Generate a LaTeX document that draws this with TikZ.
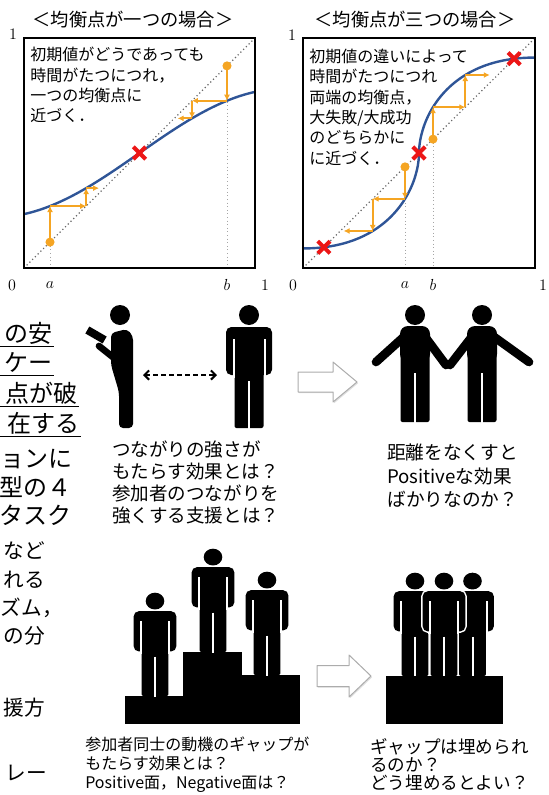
\documentclass[tikz,border=0pt]{standalone}
\usepackage{fontspec}
\usetikzlibrary{arrows.meta,shadows,calc}
\newfontfamily\jp{Noto Sans CJK JP}

\definecolor{curveblue}{RGB}{47,85,151}
\definecolor{weborange}{RGB}{245,165,35}
\definecolor{eqred}{RGB}{236,22,22}
\definecolor{guidegray}{RGB}{105,105,105}

\tikzset{
  panel/.style={draw=black, line width=1.5pt},
  diagonal/.style={guidegray, line width=0.9pt, dotted},
  dropline/.style={guidegray!60, line width=0.7pt, dotted},
  response/.style={curveblue, line width=1.8pt},
  cobweb/.style={weborange, line width=1.5pt, -{Latex[length=4.5pt,width=4.5pt]}},
  title/.style={font=\jp\fontsize{13.7pt}{16pt}\selectfont, inner sep=0pt},
  note/.style={font=\jp\fontsize{12pt}{15.2pt}\selectfont, align=left, anchor=north west, inner sep=0pt},
  axislabel/.style={font=\fontsize{12pt}{14pt}\selectfont, inner sep=0pt},
  margintext/.style={font=\jp\fontsize{18pt}{18pt}\selectfont, anchor=east, inner sep=0pt},
  marginsmall/.style={margintext, font=\jp\fontsize{15.5pt}{16pt}\selectfont},
  caption/.style={align=left, anchor=north west, inner sep=0pt},
  person fill/.style={fill=black},
  eqmark/.pic={\draw[eqred, line width=3pt] (-4.6pt,-4.6pt) -- (4.6pt,4.6pt) (-4.6pt,4.6pt) -- (4.6pt,-4.6pt);},
  startdot/.pic={\fill[weborange] (0,0) circle[radius=3.4pt];},
  standing/.pic={
    \path[person fill] (0,-113) circle[radius=10];
    \path[person fill, rounded corners=4pt] (-23,-53) -- (-23,-101) -- (23,-101) -- (23,-53) -- cycle;
    \path[person fill, rounded corners=1.5pt] (-14.5,-95) -- (-14.5,0) -- (14.5,0) -- (14.5,-95) -- cycle;
    \draw[white, line width=1.5pt] (-15.5,-89) -- (-15.5,-50) (15.5,-89) -- (15.5,-50) (0,-47) -- (0,1);
  },
  armsout/.pic={
    \path[person fill] (0,-107) circle[radius=10];
    \path[person fill, rounded corners=6pt] (-15,-60) -- (-15,-96) -- (15,-96) -- (15,-60) -- cycle;
    \path[person fill, rounded corners=1.5pt] (-14.5,-70) -- (-14.5,0) -- (14.5,0) -- (14.5,-70) -- cycle;
    \draw[white, line width=1.5pt] (0,-49) -- (0,1);
  },
  nextstep/.pic={
    \draw[gray!65, fill=white, line width=0.75pt, line join=round,
      drop shadow={opacity=0.25, shadow xshift=0.9pt, shadow yshift=-0.9pt}]
      (0,-10) -- (35,-10) -- (35,-20) -- (59,0) -- (35,20) -- (35,10) -- (0,10) -- cycle;
  },
  arm/.style={line width=6.5pt, line cap=round},
  reach/.style={line width=1.5pt, dash pattern=on 3.6pt off 2.4pt,
    {Straight Barb[length=3.5pt,width=7pt]}-{Straight Barb[length=3.5pt,width=7pt]}},
}

\begin{document}
\begin{tikzpicture}[x=0.75pt, y=-0.75pt]
\useasboundingbox (0,0) rectangle (549,795);

% ---- one equilibrium ----
\node[title] (ttlOne) at (133,20) {＜均衡点が一つの場合＞};
\begin{scope}[shift={(24,268)}, x=173.25pt, y=172.5pt]
  \coordinate (oa0) at (0.1126,0.1126);
  \coordinate (oa1) at (0.1126,0.2692);
  \coordinate (oa2) at (0.2692,0.2692);
  \coordinate (oa3) at (0.2692,0.3472);
  \coordinate (oa4) at (0.325,0.3472);
  \coordinate (ob0) at (0.8788,0.8788);
  \coordinate (ob1) at (0.8788,0.7272);
  \coordinate (ob2) at (0.7272,0.7272);
  \coordinate (ob3) at (0.7272,0.6506);
  \coordinate (ob4) at (0.665,0.6506);
  \draw[diagonal] (0,0) -- (1,1);
  \draw[dropline] (oa0) -- (oa0 |- 0,0);
  \draw[dropline] (ob0) -- (ob0 |- 0,0);
  \draw[response] plot[domain=0:1, samples=60] (\x,{0.5+0.28*sin(143.24*(\x-0.5))});
  \draw[cobweb] (oa0) -- (oa1);
  \draw[cobweb] (oa1) -- (oa2);
  \draw[cobweb] (oa2) -- (oa3);
  \draw[cobweb] (oa3) -- (oa4);
  \draw[cobweb] (ob0) -- (ob1);
  \draw[cobweb] (ob1) -- (ob2);
  \draw[cobweb] (ob2) -- (ob3);
  \draw[cobweb] (ob3) -- (ob4);
  \pic at (oa0) {startdot};
  \pic at (ob0) {startdot};
  \pic at (0.5,0.5) {eqmark};
  \draw[panel] (0,0) rectangle (1,1);
\end{scope}
\node[note] (noteOne) at (30,47) {初期値がどうであっても\\時間がたつにつれ，\\一つの均衡点に\\近づく．};
\node[axislabel] (topOne) at (13,34) {1};
\node[axislabel] (zeroOne) at (12,285) {0};
\node[axislabel] (aOne) at (50,285) {$a$};
\node[axislabel] (bOne) at (227,285) {$b$};
\node[axislabel] (endOne) at (265,285) {1};

% ---- three equilibria ----
\node[title] (ttlThree) at (415,20) {＜均衡点が三つの場合＞};
\begin{scope}[shift={(303,268)}, x=174pt, y=172.5pt]
  \coordinate (ta0) at (0.4397,0.4397);
  \coordinate (ta1) at (0.4397,0.3005);
  \coordinate (ta2) at (0.3005,0.3005);
  \coordinate (ta3) at (0.3005,0.1609);
  \coordinate (ta4) at (0.175,0.1609);
  \coordinate (tb0) at (0.5603,0.5603);
  \coordinate (tb1) at (0.5603,0.6995);
  \coordinate (tb2) at (0.6995,0.6995);
  \coordinate (tb3) at (0.6995,0.8391);
  \coordinate (tb4) at (0.805,0.8391);
  \draw[diagonal] (0,0) -- (1,1);
  \draw[dropline] (ta0) -- (ta0 |- 0,0);
  \draw[dropline] (tb0) -- (tb0 |- 0,0);
  \draw[response] plot[domain=-90:90, samples=121, variable=\t]
    ({0.5+0.5*(\t/90)*pow(abs(\t)/90+0.00001,0.8519)}, {0.5+0.415*sin(\t)});
  \draw[cobweb] (ta0) -- (ta1);
  \draw[cobweb] (ta1) -- (ta2);
  \draw[cobweb] (ta2) -- (ta3);
  \draw[cobweb] (ta3) -- (ta4);
  \draw[cobweb] (tb0) -- (tb1);
  \draw[cobweb] (tb1) -- (tb2);
  \draw[cobweb] (tb2) -- (tb3);
  \draw[cobweb] (tb3) -- (tb4);
  \pic at (ta0) {startdot};
  \pic at (tb0) {startdot};
  \pic at (0.09,0.09) {eqmark};
  \pic at (0.5,0.5) {eqmark};
  \pic at (0.91,0.91) {eqmark};
  \draw[panel] (0,0) rectangle (1,1);
\end{scope}
\node[note] (noteThree) at (309,49) {初期値の違いによって\\時間がたつにつれ\\両端の均衡点，\\大失敗/大成功\\のどちらかに\\に近づく．};
\node[axislabel] (topThree) at (292,35) {1};
\node[axislabel] (zeroThree) at (293,285) {0};
\node[axislabel] (aThree) at (405,285) {$a$};
\node[axislabel] (bThree) at (433,285) {$b$};
\node[axislabel] (endThree) at (543,285) {1};

% ---- body text of the page, cut at the left ----
\node[margintext] (m1) at (53,333) {の安};
\node[margintext] (m2) at (53,362) {ケー};
\node[margintext] (m3) at (78,393) {点が破};
\node[margintext] (m4) at (80,423) {在する};
\node[margintext] (m5) at (73,459) {ョンに};
\node[margintext] (m6) at (72,487) {型の４};
\node[margintext] (m7) at (72,515) {タスク};
\node[marginsmall] (m8) at (45,551) {など};
\node[marginsmall] (m9) at (45,580) {れる};
\node[marginsmall] (m10) at (63,608) {ズム，};
\node[marginsmall] (m11) at (45,636) {の分};
\node[marginsmall] (m12) at (45,708) {援方};
\node[marginsmall] (m13) at (47,773) {レー};
\foreach \y/\r in {346/54, 375/54, 406/79, 436/81}
  \draw[line width=0.75pt] (0,\y) -- (\r,\y);

% ---- keeping a distance ----
\coordinate (reader) at (126,428);
\fill (120,315) circle[radius=10];
\fill[rounded corners=3pt] (111,333) -- (127,329) -- (133,336) -- (133,428) -- (119,428) -- (119,392) -- (111,365) -- cycle;
\draw[arm, line width=5pt, line join=round] (125,340) -- (114,358) -- (99,346);
\fill[rotate around={-30:(96,335)}] (86,331) rectangle (106,339);
\coordinate (stander) at (249,428);
\pic at (stander) {standing};
\coordinate (gapL) at (143,375);
\coordinate (gapR) at (217,375);
\draw[reach] (gapL) -- (gapR);
\coordinate (stepUp) at (298,382);
\pic at (stepUp) {nextstep};

% ---- holding hands ----
\coordinate (pairL) at (415,422);
\coordinate (pairR) at (482,422);
\pic at (pairL) {armsout};
\pic at (pairR) {armsout};
\draw[arm] ($(pairL)+(-8,-88)$) -- ($(pairL)+(-39,-60)$);
\draw[arm] ($(pairL)+(8,-88)$) -- ($(pairL)+(31,-57)$);
\draw[arm] ($(pairR)+(-8,-88)$) -- ($(pairR)+(-32,-57)$);
\draw[arm] ($(pairR)+(8,-88)$) -- ($(pairR)+(47,-60)$);

\node[caption, font=\jp\fontsize{13.9pt}{16.3pt}\selectfont] (askLink) at (112,441)
  {つながりの強さが\\もたらす効果とは？\\参加者のつながりを\\強くする支援とは？};
\node[caption, font=\jp\fontsize{14pt}{17.6pt}\selectfont] (askClose) at (387,444)
  {距離をなくすと\\Positiveな効果\\ばかりなのか？};

% ---- podium ----
\fill (125,696) rectangle (300,724);
\fill (183,652) rectangle (242,696);
\fill (242,675) rectangle (300,696);
\pic[xscale=0.93, yscale=0.84] at (155,696) {standing};
\pic[xscale=0.93, yscale=0.84] at (213,652) {standing};
\pic[xscale=0.93, yscale=0.84] at (267,675) {standing};
\coordinate (stepDown) at (317,676);
\pic[xscale=0.915, yscale=1.05] at (stepDown) {nextstep};

% ---- side by side ----
\pic[xscale=0.93, yscale=0.84] at (415,676) {standing};
\pic[xscale=0.93, yscale=0.84] at (472.5,676) {standing};
\begin{scope}
  \clip (380,560) rectangle (510,668);
  \pic[xscale=0.93, yscale=0.84, person fill/.style={draw=white, line width=2.2pt}] at (444,676) {standing};
\end{scope}
\pic[xscale=0.93, yscale=0.84] at (444,676) {standing};
\fill (386,676) rectangle (503,724);

\node[caption, font=\jp\fontsize{12pt}{14pt}\selectfont] (askGap) at (85,737)
  {参加者同士の動機のギャップが\\もたらす効果とは？\\Positive面，Negative面は？};
\node[caption, font=\jp\fontsize{13.2pt}{13.4pt}\selectfont] (askFill) at (370,738)
  {ギャップは埋められ\\るのか？\\どう埋めるとよい？};
\end{tikzpicture}
\end{document}
